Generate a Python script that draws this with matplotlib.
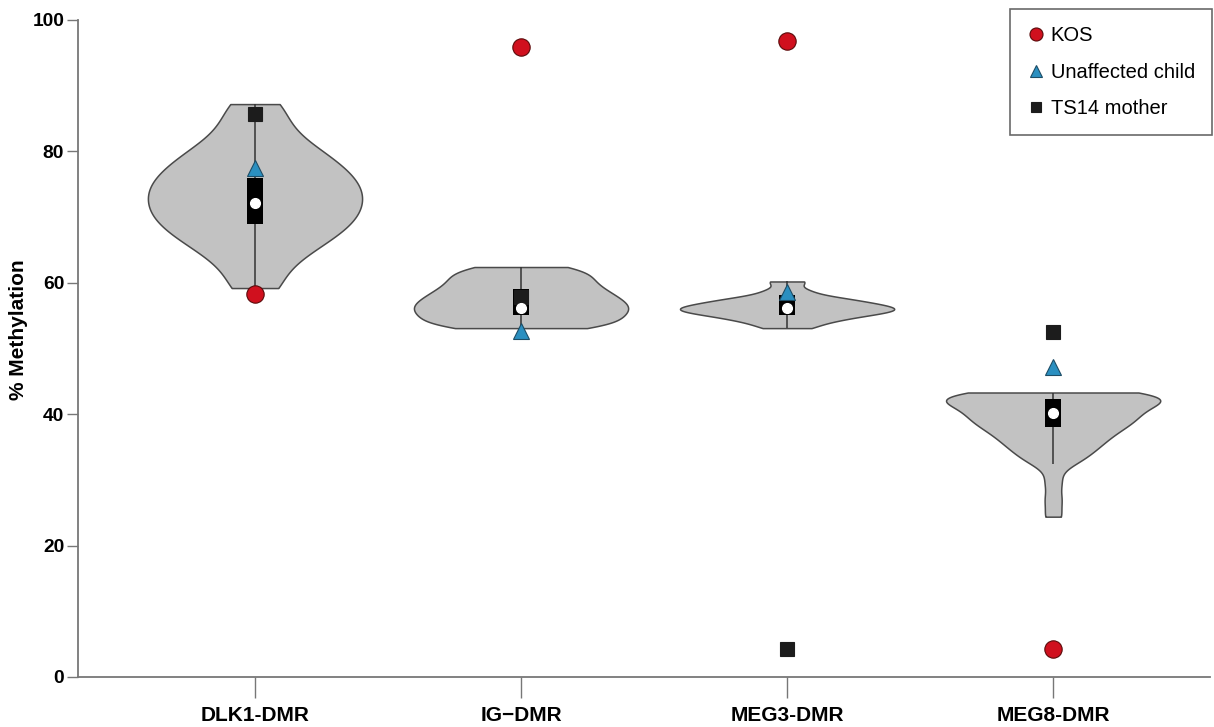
import matplotlib
matplotlib.use("Agg")
import matplotlib.pyplot as plt
import numpy as np

plt.rcParams["font.family"] = ["Liberation Sans", "DejaVu Sans"]

# DMR regions along the x axis
REGIONS = ["DLK1-DMR", "IG\u2212DMR", "MEG3-DMR", "MEG8-DMR"]

# control-cohort methylation (%) used for the violin bodies
CTRL_DLK1 = [59.2, 62.8, 65.1, 66.5, 67.7, 68.8, 69.8, 70.7, 71.6, 72.6,
             73.5, 74.4, 75.3, 76.3, 77.3, 78.5, 79.8, 81.3, 84.0, 87.2]
CTRL_IG = [53.1, 53.5, 54.1, 54.7, 55.3, 55.8, 56.3, 56.8, 57.4, 57.9,
           58.6, 59.2, 60.0, 60.8, 61.6, 62.4]
CTRL_MEG3 = [53.1, 53.9, 54.4, 54.8, 55.1, 55.4, 55.6, 55.8, 56.0, 56.2,
             56.4, 56.6, 56.9, 57.2, 57.5, 57.9, 58.8, 60.2]
CTRL_MEG8 = [24.4, 27.0, 29.7, 32.4, 33.0, 33.7, 34.3, 34.8, 35.3, 35.7,
             36.1, 36.5, 36.9, 37.3, 37.6, 37.9, 38.2, 38.5, 38.8, 39.0,
             39.3, 39.5, 39.8, 40.0, 40.3, 40.5, 40.8, 41.0, 41.3, 41.5,
             41.8, 42.0, 42.2, 42.4, 42.6, 42.7, 42.8, 42.9, 43.0, 43.1,
             43.2, 43.3, 43.3]
KDE_BW = [2.5, 1.1, 0.6, 1.3]  # kernel bandwidth, % methylation

# inner box summaries
Q1 = [69.0, 55.1, 55.1, 38.1]
MEDIAN = [72.2, 56.1, 56.2, 40.2]
Q3 = [76.0, 59.1, 58.2, 42.3]
WHISK_LO = [59.2, 53.1, 53.1, 32.4]
WHISK_HI = [87.2, 62.4, 60.2, 43.3]

# individual samples
KOS = [58.3, 95.9, 96.8, 4.3]
UNAFFECTED_CHILD = [77.5, 52.7, 58.6, 47.2]
TS14_MOTHER = [85.7, 57.8, 4.3, 52.5]

pos = np.arange(1, len(REGIONS) + 1)

fig = plt.figure(figsize=(12.14, 7.27), dpi=100)
ax = fig.add_axes([0.0643, 0.0688, 0.9325, 0.9037])

for i, data in enumerate([CTRL_DLK1, CTRL_IG, CTRL_MEG3, CTRL_MEG8]):
    data = np.asarray(data)
    bw = KDE_BW[i] / data.std(ddof=1)
    parts = ax.violinplot([data], positions=[pos[i]], widths=0.805,
                          bw_method=bw, showextrema=False, points=400)
    for body in parts["bodies"]:
        body.set_facecolor("#c2c2c2")
        body.set_edgecolor("#4a4a4a")
        body.set_linewidth(1.1)
        body.set_alpha(1)
        body.set_zorder(1)

# whiskers and interquartile boxes
ax.vlines(pos, WHISK_LO, WHISK_HI, color="#333333", lw=1.1, zorder=2)
ax.bar(pos, np.subtract(Q3, Q1), bottom=Q1, width=0.06, color="black",
       zorder=3)

ax.plot(pos, KOS, ls="none", marker="o", ms=12.5, mfc="#d0101e",
        mec="#5a0a0a", mew=0.8, label="KOS", zorder=4)
ax.plot(pos, UNAFFECTED_CHILD, ls="none", marker="^", ms=12, mfc="#2a8fc0",
        mec="#1d4d66", mew=0.8, label="Unaffected child", zorder=4)
ax.plot(pos, TS14_MOTHER, ls="none", marker="s", ms=10.5, mfc="#1c1c1c",
        mec="#1c1c1c", mew=0.8, label="TS14 mother", zorder=4)

ax.plot(pos, MEDIAN, ls="none", marker="o", ms=7, mfc="white",
        mec="white", zorder=5)

ax.set_xlim(0.335, 4.59)
ax.set_ylim(0, 100)
ax.set_xticks(pos)
ax.set_xticklabels(REGIONS, fontsize=15, fontweight="bold")
ax.set_yticks(np.arange(0, 101, 20))
ax.tick_params(axis="y", labelsize=13.8, length=8, width=1, color="#777777",
               pad=2)
ax.tick_params(axis="x", length=15, width=1, color="#777777", pad=6)
for lab in ax.get_yticklabels():
    lab.set_fontweight("bold")
ax.set_ylabel("% Methylation", fontsize=15, fontweight="bold")
ax.yaxis.set_label_coords(-0.044, 0.528)

for side in ["top", "right"]:
    ax.spines[side].set_visible(False)
for side in ["left", "bottom"]:
    ax.spines[side].set_color("#777777")
    ax.spines[side].set_linewidth(1.3)

leg = ax.legend(loc="upper right", bbox_to_anchor=(0.9984, 0.9876),
                bbox_transform=fig.transFigure, borderaxespad=0,
                fontsize=14.5, frameon=True, fancybox=False, markerscale=0.75,
                handletextpad=0.35, handlelength=0.8, borderpad=0.85,
                labelspacing=0.87)
leg.get_frame().set_edgecolor("#444444")
leg.get_frame().set_linewidth(1.2)

fig.savefig("out.png", dpi=100)
